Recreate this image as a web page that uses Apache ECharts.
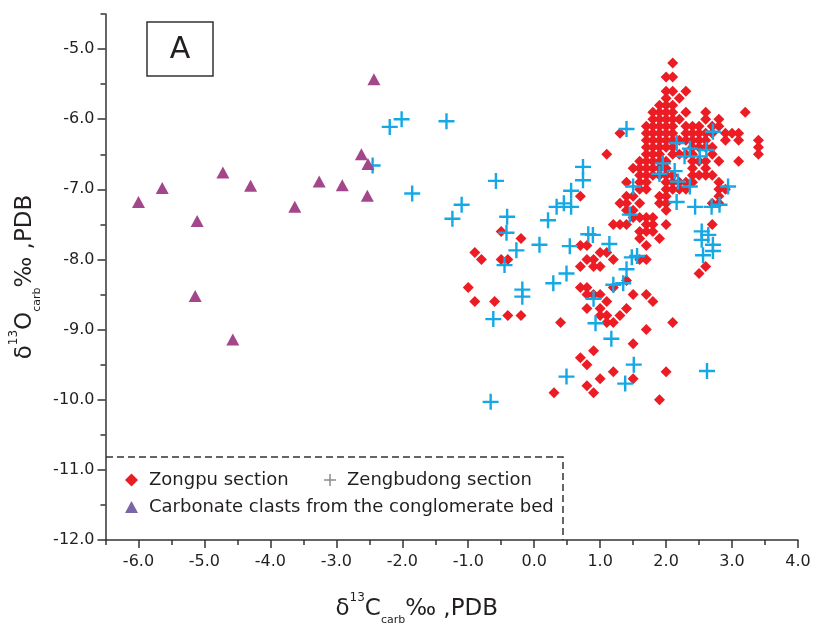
<!DOCTYPE html>
<html><head><meta charset="utf-8">
<script src="https://cdn.jsdelivr.net/npm/echarts@6/dist/echarts.min.js"></script>
<style>html,body{margin:0;padding:0;background:#fff}#c{width:814px;height:635px}</style>
</head><body><div id="c"></div>
<script>
// ---------- data ----------
const xMajor = [-6, -5, -4, -3, -2, -1, 0, 1, 2, 3, 4];
const xMinor = [-6.5, -5.5, -4.5, -3.5, -2.5, -1.5, -0.5, 0.5, 1.5, 2.5, 3.5];
const yMajor = [-12, -11, -10, -9, -8, -7, -6, -5];
const yMinor = [-11.5, -10.5, -9.5, -8.5, -7.5, -6.5, -5.5, -4.5];

const seriesNames = ['Zongpu section', 'Zengbudong section', 'Carbonate clasts from the conglomerate bed'];

// Zongpu section [δ13C, δ18O]
const zongpu = [
[2.1,-5.2],
[2.0,-5.4],[2.1,-5.4],
[2.0,-5.6],[2.1,-5.6],[2.3,-5.6],
[2.0,-5.7],[2.2,-5.7],
[1.9,-5.8],[2.0,-5.8],[2.1,-5.8],
[1.8,-5.9],[1.9,-5.9],[2.0,-5.9],[2.1,-5.9],[2.3,-5.9],[2.6,-5.9],[3.2,-5.9],
[1.8,-6.0],[1.9,-6.0],[2.0,-6.0],[2.1,-6.0],[2.2,-6.0],[2.6,-6.0],[2.8,-6.0],
[1.7,-6.1],[1.8,-6.1],[1.9,-6.1],[2.0,-6.1],[2.1,-6.1],[2.3,-6.1],[2.4,-6.1],[2.5,-6.1],[2.7,-6.1],[2.8,-6.1],
[1.3,-6.2],[1.7,-6.2],[1.8,-6.2],[1.9,-6.2],[2.0,-6.2],[2.1,-6.2],[2.3,-6.2],[2.4,-6.2],[2.5,-6.2],[2.6,-6.2],[2.7,-6.2],[2.9,-6.2],[3.0,-6.2],[3.1,-6.2],
[1.7,-6.3],[1.8,-6.3],[1.9,-6.3],[2.0,-6.3],[2.1,-6.3],[2.2,-6.3],[2.3,-6.3],[2.4,-6.3],[2.5,-6.3],[2.6,-6.3],[2.9,-6.3],[3.1,-6.3],[3.4,-6.3],
[1.7,-6.4],[1.8,-6.4],[1.9,-6.4],[2.0,-6.4],[2.1,-6.4],[2.4,-6.4],[2.5,-6.4],[2.6,-6.4],[2.7,-6.4],[3.4,-6.4],
[1.1,-6.5],[1.7,-6.5],[1.8,-6.5],[1.9,-6.5],[2.1,-6.5],[2.2,-6.5],[2.3,-6.5],[2.4,-6.5],[2.7,-6.5],[3.4,-6.5],
[1.6,-6.6],[1.7,-6.6],[1.8,-6.6],[1.9,-6.6],[2.0,-6.6],[2.4,-6.6],[2.5,-6.6],[2.6,-6.6],[2.8,-6.6],[3.1,-6.6],
[1.5,-6.7],[1.6,-6.7],[1.7,-6.7],[1.8,-6.7],[1.9,-6.7],[2.0,-6.7],[2.4,-6.7],[2.6,-6.7],
[1.6,-6.8],[1.7,-6.8],[1.8,-6.8],[1.9,-6.8],[2.0,-6.8],[2.1,-6.8],[2.4,-6.8],[2.5,-6.8],[2.6,-6.8],[2.7,-6.8],
[1.4,-6.9],[1.6,-6.9],[1.7,-6.9],[2.0,-6.9],[2.1,-6.9],[2.2,-6.9],[2.3,-6.9],[2.4,-6.9],[2.8,-6.9],
[1.6,-7.0],[1.7,-7.0],[2.0,-7.0],[2.1,-7.0],[2.2,-7.0],[2.3,-7.0],[2.8,-7.0],[2.9,-7.0],
[0.7,-7.1],[1.4,-7.1],[1.5,-7.1],[1.9,-7.1],[2.0,-7.1],[2.8,-7.1],
[1.3,-7.2],[1.4,-7.2],[1.6,-7.2],[1.9,-7.2],[2.0,-7.2],[2.7,-7.2],[2.8,-7.2],
[1.4,-7.3],[1.5,-7.3],[2.0,-7.3],
[1.5,-7.4],[1.6,-7.4],[1.7,-7.4],[1.8,-7.4],
[1.2,-7.5],[1.3,-7.5],[1.4,-7.5],[1.7,-7.5],[1.8,-7.5],[2.0,-7.5],[2.7,-7.5],
[-0.5,-7.6],[1.6,-7.6],[1.7,-7.6],[1.8,-7.6],
[-0.2,-7.7],[1.6,-7.7],[1.9,-7.7],
[0.7,-7.8],[0.8,-7.8],[1.7,-7.8],
[-0.9,-7.9],[1.0,-7.9],[1.1,-7.9],
[-0.8,-8.0],[-0.5,-8.0],[-0.4,-8.0],[0.8,-8.0],[0.9,-8.0],[1.2,-8.0],[1.6,-8.0],[1.7,-8.0],
[0.7,-8.1],[0.9,-8.1],[1.0,-8.1],[2.6,-8.1],
[2.5,-8.2],[1.4,-8.3],
[-1.0,-8.4],[0.7,-8.4],[0.8,-8.4],[1.2,-8.4],
[0.8,-8.5],[0.9,-8.5],[1.0,-8.5],[1.5,-8.5],[1.7,-8.5],
[-0.9,-8.6],[-0.6,-8.6],[1.1,-8.6],[1.8,-8.6],
[0.8,-8.7],[1.0,-8.7],[1.4,-8.7],
[-0.4,-8.8],[-0.2,-8.8],[1.0,-8.8],[1.1,-8.8],[1.3,-8.8],
[0.4,-8.9],[1.1,-8.9],[1.2,-8.9],[2.1,-8.9],
[1.7,-9.0],[1.5,-9.2],[0.9,-9.3],[0.7,-9.4],[0.8,-9.5],
[1.2,-9.6],[2.0,-9.6],[1.0,-9.7],[1.5,-9.7],[0.8,-9.8],[0.3,-9.9],[0.9,-9.9],[1.9,-10.0]
];

// Zengbudong section [δ13C, δ18O]
const zengbudong = [
[-2.45,-6.66],[-2.19,-6.11],[-2.01,-6.0],[-1.33,-6.03],[-0.58,-6.88],[-1.85,-7.06],
[-1.10,-7.22],[-1.24,-7.42],[-0.41,-7.39],[-0.42,-7.62],[0.21,-7.44],[0.34,-7.25],
[0.56,-7.02],[0.45,-7.20],[0.56,-7.25],[0.74,-6.68],[0.74,-6.87],[1.40,-6.14],
[-0.27,-7.87],[-0.45,-8.08],[0.08,-7.79],[0.54,-7.81],[0.82,-7.64],[0.89,-7.65],
[0.49,-8.20],[0.29,-8.34],[-0.18,-8.43],[-0.18,-8.53],[-0.62,-8.85],[0.90,-8.56],
[0.93,-8.91],[0.49,-9.67],[-0.66,-10.03],[1.45,-7.36],[2.16,-7.18],[1.14,-7.78],
[1.48,-7.97],[1.56,-7.95],[1.40,-8.14],[1.20,-8.36],[1.35,-8.34],[1.17,-9.13],
[1.51,-9.50],[1.38,-9.77],[2.44,-7.25],[2.69,-7.25],[2.81,-7.22],[2.54,-7.60],
[2.64,-7.65],[2.54,-7.72],[2.71,-7.79],[2.71,-7.88],[2.56,-7.94],[2.62,-9.59],
[2.16,-6.34],[2.36,-6.42],[2.61,-6.44],[2.28,-6.53],[2.51,-6.53],[2.71,-6.18],
[1.95,-6.63],[1.90,-6.78],[2.13,-6.74],[2.18,-6.89],[2.36,-6.96],[1.50,-6.96],[2.94,-6.96]
];

// Carbonate clasts from the conglomerate bed [δ13C, δ18O]
const clasts = [
[-2.43,-5.43],[-2.62,-6.50],[-2.52,-6.64],[-4.72,-6.76],[-5.64,-6.98],[-4.30,-6.95],
[-3.26,-6.89],[-2.91,-6.94],[-6.00,-7.18],[-3.63,-7.25],[-2.53,-7.09],[-5.11,-7.45],
[-5.14,-8.52],[-4.57,-9.14]
];

// ---------- chart ----------
const FONT = 'DejaVu Sans';
const TXT = '#231f20';
const AX = '#333333';
const plusPath = 'path://M8.5,0h3v8.5h8.5v3h-8.5v8.5h-3v-8.5h-8.5v-3h8.5z';
const plusThin = 'path://M5.25,0h1.5v5.25h5.25v1.5h-5.25v5.25h-1.5v-5.25h-5.25v-1.5h5.25z';

const titleRich = {
  m: {fontFamily: FONT, fontSize: 23, lineHeight: 34, color: TXT},
  sup: {fontFamily: FONT, fontSize: 12, lineHeight: 14, verticalAlign: 'top', color: TXT},
  sub: {fontFamily: FONT, fontSize: 11, lineHeight: 14, verticalAlign: 'bottom', color: TXT}
};

const chart = echarts.init(document.getElementById('c'));
const legendText = {fontFamily: FONT, fontSize: 18, color: TXT, padding: [0, 0, 0, 6]};
chart.setOption({
  animation: false,
  backgroundColor: '#ffffff',
  grid: {left: 105.5, right: 16, top: 14, bottom: 95},
  xAxis: [{
    type: 'value', min: -6.5, max: 4, position: 'bottom',
    axisLine: {onZero: false, lineStyle: {color: AX, width: 1.5}},
    axisTick: {customValues: xMajor, length: 8, lineStyle: {color: AX, width: 1.5}},
    axisLabel: {customValues: xMajor, formatter: v => v.toFixed(1), fontFamily: FONT, fontSize: 16, color: TXT, margin: 14},
    splitLine: {show: false},
    name: '{m|δ}{sup|13}{m|C}{sub|carb}{m|‰ ,PDB}',
    nameLocation: 'middle', nameGap: 52,
    nameTextStyle: {padding: [0, 70, 0, 0], rich: titleRich}
  }, {
    type: 'value', min: -6.5, max: 4, position: 'bottom',
    axisLine: {show: false, onZero: false},
    axisTick: {customValues: xMinor, length: 5, lineStyle: {color: AX, width: 1.5}},
    axisLabel: {show: false}, splitLine: {show: false}
  }],
  yAxis: [{
    type: 'value', min: -12, max: -4.5, position: 'left',
    axisLine: {onZero: false, lineStyle: {color: AX, width: 1.5}},
    axisTick: {customValues: yMajor, length: 8, lineStyle: {color: AX, width: 1.5}},
    axisLabel: {customValues: yMajor, formatter: v => v.toFixed(1), fontFamily: FONT, fontSize: 16, color: TXT, margin: 11},
    splitLine: {show: false},
    name: '{m|δ}{sup|13}{m|O}{sub|carb}{m|‰ ,PDB}',
    nameLocation: 'middle', nameGap: 55,
    nameTextStyle: {rich: titleRich}
  }, {
    type: 'value', min: -12, max: -4.5, position: 'left',
    axisLine: {show: false, onZero: false},
    axisTick: {customValues: yMinor, length: 5, lineStyle: {color: AX, width: 1.5}},
    axisLabel: {show: false}, splitLine: {show: false}
  }],
  legend: [
    {left: 125, top: 471, padding: 0, itemWidth: 13, itemHeight: 13, selectedMode: false, textStyle: legendText,
     data: [{name: seriesNames[0], icon: 'diamond', itemStyle: {color: '#ec1c24'}}]},
    {left: 324, top: 471, padding: 0, itemWidth: 12, itemHeight: 12, selectedMode: false, textStyle: legendText,
     data: [{name: seriesNames[1], icon: plusThin, itemStyle: {color: '#8c8c8c'}}]},
    {left: 125, top: 498, padding: 0, itemWidth: 13, itemHeight: 12, selectedMode: false, textStyle: legendText,
     data: [{name: seriesNames[2], icon: 'triangle', itemStyle: {color: '#7b64a8'}}]}
  ],
  graphic: [
    {type: 'rect', shape: {x: 147, y: 22, width: 66, height: 54}, style: {fill: 'none', stroke: AX, lineWidth: 1.5}},
    {type: 'text', x: 180, y: 50, style: {text: 'A', font: '30px "DejaVu Sans"', fill: TXT, align: 'center', verticalAlign: 'middle'}},
    {type: 'polyline', shape: {points: [[106, 457], [563, 457], [563, 540]]}, style: {fill: null, stroke: AX, lineWidth: 1.5, lineDash: [7, 4]}}
  ],
  series: [
    {name: seriesNames[0], type: 'scatter', xAxisIndex: 0, yAxisIndex: 0, symbol: 'diamond', symbolSize: 11,
     itemStyle: {color: '#ec1c24', opacity: 1}, data: zongpu},
    {name: seriesNames[1], type: 'scatter', xAxisIndex: 0, yAxisIndex: 0, symbol: plusPath, symbolSize: 16,
     itemStyle: {color: '#14a9e6', opacity: 1}, data: zengbudong},
    {name: seriesNames[2], type: 'scatter', xAxisIndex: 0, yAxisIndex: 0, symbol: 'triangle', symbolSize: [13, 12],
     itemStyle: {color: '#a3468a', opacity: 1}, data: clasts}
  ]
});
</script>
</body></html>
